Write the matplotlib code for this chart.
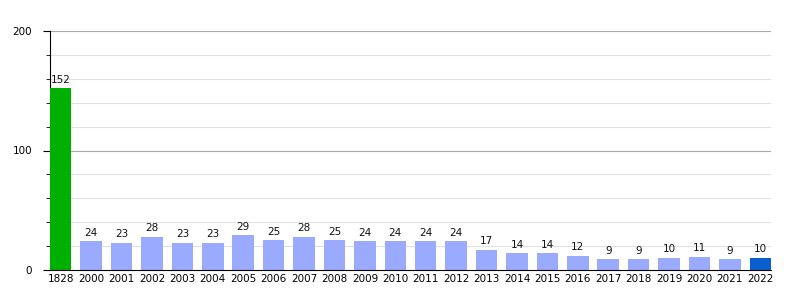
import matplotlib
matplotlib.use("Agg")
import matplotlib.pyplot as plt
from matplotlib.ticker import MultipleLocator

categories = ["1828", "2000", "2001", "2002", "2003", "2004", "2005", "2006", "2007", "2008",
              "2009", "2010", "2011", "2012", "2013", "2014", "2015", "2016", "2017", "2018",
              "2019", "2020", "2021", "2022"]
values = [152, 24, 23, 28, 23, 23, 29, 25, 28, 25, 24, 24, 24, 24, 17, 14, 14, 12, 9, 9, 10, 11, 9, 10]

colors = ["#00b000"] + ["#99aaff"] * (len(values) - 2) + ["#0a5fcc"]

fig = plt.figure(figsize=(8, 3), dpi=100)
ax = fig.add_axes([50/800, 30/300, 721/800, 239/300])
w = 0.705
x = list(range(len(values)))
ax.bar(x, values, width=w, color=colors, zorder=3)
for xi, v in zip(x, values):
    ax.text(xi, v + 3, str(v), ha="center", va="bottom", fontsize=7.5, color="#111111", zorder=4)

ax.set_xlim(-w/2, len(values) - 1 + w/2)
ax.set_ylim(0, 200)
ax.set_xticks(x)
ax.set_xticklabels(categories, fontsize=7.5)
ax.tick_params(axis="x", length=0, pad=3)
ax.yaxis.set_major_locator(MultipleLocator(100))
ax.yaxis.set_minor_locator(MultipleLocator(20))
ax.tick_params(axis="y", which="major", length=5, labelsize=7.5, pad=8)
ax.tick_params(axis="y", which="minor", length=3)
for yv in range(20, 201, 20):
    c = "#aaaaaa" if yv % 100 == 0 else "#e0e0e0"
    ax.axhline(yv, color=c, lw=0.8, zorder=1)
for s in ["top", "right"]:
    ax.spines[s].set_visible(False)
ax.spines["left"].set_color("black")
ax.spines["bottom"].set_color("black")
ax.spines["bottom"].set_zorder(5)
fig.savefig("out.png", dpi=100)
